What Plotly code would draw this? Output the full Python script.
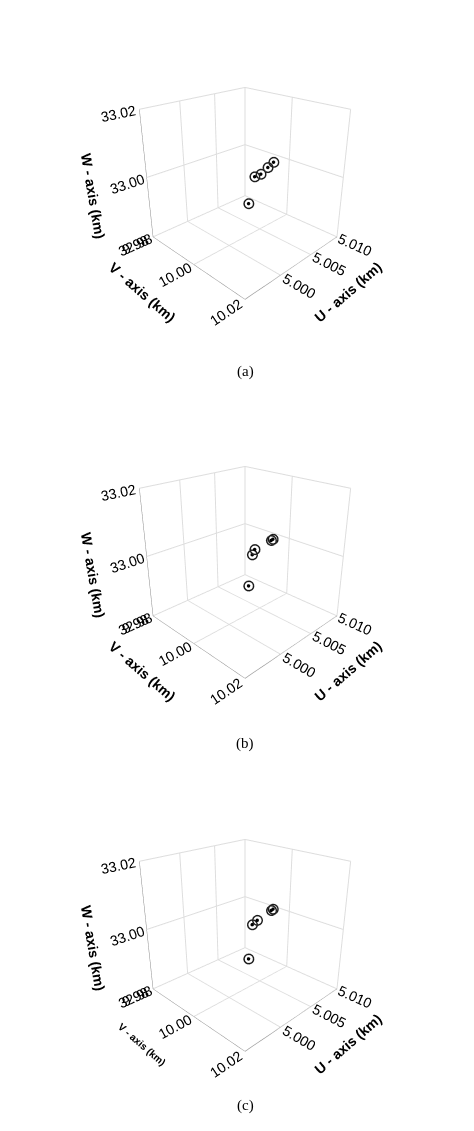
import plotly.graph_objects as go

# panel data (U, V, W in km)
u_a = [5.000, 5.004, 5.005, 5.007, 5.008]
v_a = [10.008, 10.000, 10.000, 9.998, 9.998]
w_a = [32.997, 32.999, 32.999, 32.999, 33.000]

u_b = [5.000, 5.004, 5.004, 5.007, 5.008]
v_b = [10.008, 10.000, 9.999, 10.000, 9.997]
w_b = [32.996, 33.001, 32.999, 33.002, 33.000]

u_c = [5.000, 5.004, 5.004, 5.007, 5.008]
v_c = [10.008, 10.001, 9.999, 10.000, 9.997]
w_c = [32.996, 33.002, 33.000, 33.003, 33.001]

u_ticks = [5.000, 5.005, 5.010]
v_ticks = [9.98, 10.00, 10.02]
w_ticks = [32.98, 33.00, 33.02]
captions = ["(a)", "(b)", "(c)"]
v_title_sizes = [14, 14, 10]

fig = go.Figure()
data = [(u_a, v_a, w_a), (u_b, v_b, w_b), (u_c, v_c, w_c)]
domains = [(0.70, 1.0), (0.365, 0.665), (0.035, 0.335)]
for i, (u, v, w) in enumerate(data):
    sc = "scene" if i == 0 else f"scene{i+1}"
    fig.add_trace(go.Scatter3d(x=u, y=v, z=w, mode="markers", scene=sc, showlegend=False,
                               marker=dict(symbol="circle-open", size=6, color="black", line=dict(width=1.2))))
    fig.add_trace(go.Scatter3d(x=u, y=v, z=w, mode="markers", scene=sc, showlegend=False,
                               marker=dict(symbol="circle", size=2, color="black")))
    ax = dict(showbackground=False, gridcolor="#dddddd", zeroline=False, showspikes=False,
              tickfont=dict(family="Arial", size=13, color="black"), linecolor="#888", showline=True)
    fig.layout[sc] = dict(
        domain=dict(x=[0.0, 1.0], y=list(domains[i])),
        xaxis=dict(ax, range=[4.995, 5.010], tickvals=u_ticks, ticktext=[f"{t:.3f}" for t in u_ticks],
                   title=dict(text="<b>U - axis (km)</b>", font=dict(family="Arial", size=14))),
        yaxis=dict(ax, range=[10.02, 9.98], tickvals=v_ticks, ticktext=[f"{t:.2f}" for t in v_ticks],
                   title=dict(text="<b>V - axis (km)</b>", font=dict(family="Arial", size=v_title_sizes[i]))),
        zaxis=dict(ax, range=[32.98, 33.02], tickvals=w_ticks, ticktext=[f"{t:.2f}" for t in w_ticks],
                   title=dict(text="<b>W - axis (km)</b>", font=dict(family="Arial", size=14))),
        aspectmode="cube",
        camera=dict(eye=dict(x=-1.9, y=-1.9, z=1.2)),
    )
for cap, y in zip(captions, [0.688, 0.35, 0.02]):
    fig.add_annotation(text=cap, x=0.5, y=y, xref="paper", yref="paper", showarrow=False,
                       font=dict(family="Times New Roman, Liberation Serif", size=15, color="black"))

fig.update_layout(width=474, height=1131, margin=dict(l=0, r=0, t=0, b=0),
                  paper_bgcolor="white", font=dict(family="Arial", color="black"))
fig.write_html("out.html")
